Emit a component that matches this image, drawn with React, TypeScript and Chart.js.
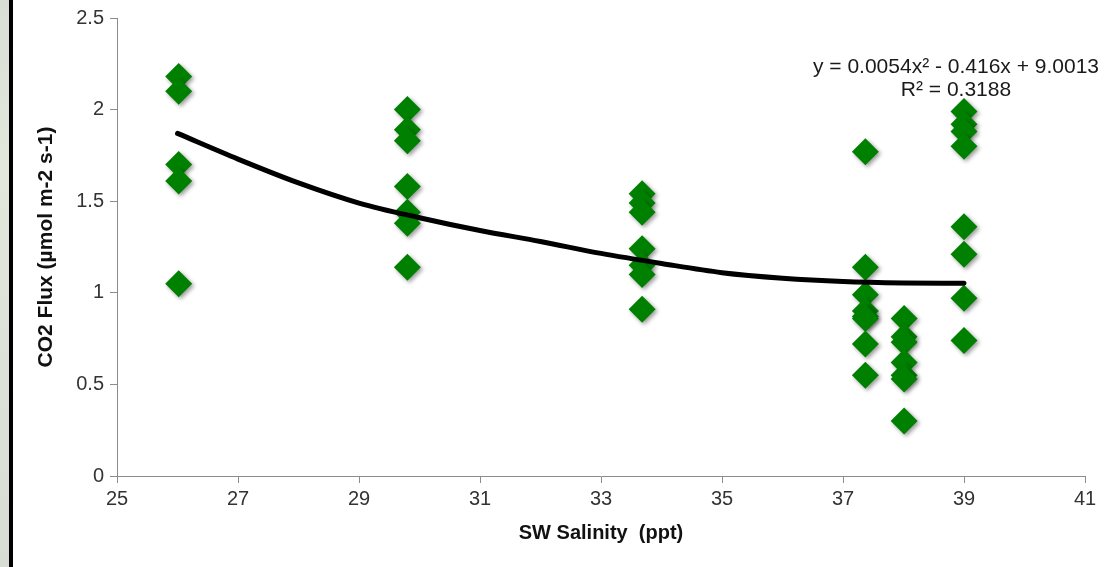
import React, { useEffect, useRef } from "react";
import { Chart, registerables } from "chart.js";

Chart.register(...registerables);

// ---- data ----
const salinityLevels = [26.02, 29.8, 33.68, 37.37, 38.01, 39.0];
const fluxAt26 = [2.18, 2.1, 1.7, 1.61, 1.05];
const fluxAt29_8 = [2.0, 1.89, 1.83, 1.58, 1.44, 1.38, 1.14];
const fluxAt33_7 = [1.54, 1.49, 1.44, 1.24, 1.15, 1.1, 0.91];
const fluxAt37_4 = [1.77, 1.14, 0.99, 0.9, 0.87, 0.86, 0.72, 0.55];
const fluxAt38 = [0.86, 0.76, 0.73, 0.62, 0.55, 0.53, 0.3];
const fluxAt39 = [1.99, 1.92, 1.88, 1.8, 1.36, 1.21, 0.97, 0.74];
const fluxColumns = [fluxAt26, fluxAt29_8, fluxAt33_7, fluxAt37_4, fluxAt38, fluxAt39];

const trendX = [26, 27, 28, 29, 30, 31, 32, 33, 34, 35, 36, 37, 38, 39];
const trendY = [1.87, 1.73, 1.6, 1.49, 1.41, 1.34, 1.28, 1.215, 1.16, 1.11, 1.08, 1.062, 1.054, 1.052];

const xTicks = [25, 27, 29, 31, 33, 35, 37, 39, 41];
const yTicks = [0, 0.5, 1, 1.5, 2, 2.5];
const yTickLabels = ["0", "0.5", "1", "1.5", "2", "2.5"];

const xTitle = "SW Salinity  (ppt)";
const yTitle = "CO2 Flux (µmol m-2 s-1)";
const eqLine1 = "y = 0.0054x² - 0.416x + 9.0013";
const eqLine2 = "R² = 0.3188";

const FONT = '"Liberation Sans", Arial, sans-serif';

const scatterPoints = salinityLevels.flatMap((s, i) =>
  fluxColumns[i].map((f) => ({ x: s, y: f }))
);
const trendPoints = trendX.map((x, i) => ({ x, y: trendY[i] }));

const shadowPlugin = {
  id: "markerShadow",
  beforeDatasetDraw(chart: any, args: any) {
    if (args.index !== 1) return;
    const ctx = chart.ctx;
    ctx.save();
    ctx.shadowColor = "rgba(0,0,0,0.4)";
    ctx.shadowBlur = 4;
    ctx.shadowOffsetX = 2;
    ctx.shadowOffsetY = 2;
  },
  afterDatasetDraw(chart: any, args: any) {
    if (args.index !== 1) return;
    chart.ctx.restore();
  },
};

const equationPlugin = {
  id: "equation",
  afterDatasetsDraw(chart: any) {
    const ctx = chart.ctx;
    ctx.save();
    ctx.font = `21px ${FONT}`;
    ctx.fillStyle = "#1a1a1a";
    ctx.textAlign = "center";
    ctx.textBaseline = "alphabetic";
    ctx.fillText(eqLine1, 956, 73);
    ctx.fillText(eqLine2, 956, 96);
    ctx.restore();
  },
};

export default function App() {
  const ref = useRef<HTMLCanvasElement | null>(null);

  useEffect(() => {
    if (!ref.current) return;
    const chart = new Chart(ref.current, {
      type: "scatter",
      data: {
        datasets: [
          {
            label: "Trend",
            data: trendPoints,
            showLine: true,
            borderColor: "#000000",
            borderWidth: 5,
            borderCapStyle: "round",
            cubicInterpolationMode: "monotone",
            pointRadius: 0,
            fill: false,
          } as any,
          {
            label: "CO2 Flux",
            data: scatterPoints,
            pointStyle: "rectRot",
            pointRadius: 13.5,
            backgroundColor: "#008000",
            borderWidth: 0,
            borderColor: "#008000",
          } as any,
        ],
      },
      options: {
        responsive: false,
        animation: false,
        events: [],
        layout: { padding: { left: 0, top: 18, right: 33, bottom: 0 } },
        plugins: {
          legend: { display: false },
          tooltip: { enabled: false },
        },
        scales: {
          x: {
            type: "linear",
            min: 25,
            max: 41,
            afterBuildTicks: (s: any) => {
              s.ticks = xTicks.map((v) => ({ value: v }));
            },
            afterFit: (s: any) => {
              s.height = 91;
            },
            grid: {
              display: true,
              drawOnChartArea: false,
              drawTicks: true,
              tickLength: 7,
              color: "#8c8c8c",
            },
            border: { display: true, color: "#8c8c8c", width: 1 },
            ticks: {
              font: { family: FONT, size: 20 },
              color: "#333333",
              padding: 4,
              maxRotation: 0,
            },
            title: {
              display: true,
              text: xTitle,
              font: { family: FONT, size: 20, weight: "bold" },
              color: "#111111",
              padding: { top: 0, bottom: 22 },
            },
          },
          y: {
            type: "linear",
            min: 0,
            max: 2.5,
            afterBuildTicks: (s: any) => {
              s.ticks = yTicks.map((v) => ({ value: v }));
            },
            afterFit: (s: any) => {
              s.width = 117;
            },
            grid: {
              display: true,
              drawOnChartArea: false,
              drawTicks: true,
              tickLength: 7,
              color: "#8c8c8c",
            },
            border: { display: true, color: "#8c8c8c", width: 1 },
            ticks: {
              font: { family: FONT, size: 20 },
              color: "#333333",
              padding: 6,
              callback: (v: any) => {
                const i = yTicks.indexOf(Number(v));
                return i >= 0 ? yTickLabels[i] : String(v);
              },
            },
            title: {
              display: true,
              text: yTitle,
              font: { family: FONT, size: 21, weight: "bold" },
              color: "#111111",
              padding: { top: 34, bottom: 0 },
            },
          },
        },
      },
      plugins: [shadowPlugin, equationPlugin],
    } as any);
    return () => chart.destroy();
  }, []);

  return (
    <div
      style={{
        position: "fixed",
        left: 0,
        top: 0,
        width: 1118,
        height: 567,
        background: "#ffffff",
        overflow: "hidden",
      }}
    >
      <div
        style={{
          position: "absolute",
          left: 0,
          top: 0,
          width: 9,
          height: 567,
          background: "linear-gradient(180deg, #d9ddd6 0%, #e3e8dc 30%, #dde1d9 60%, #d8dcd5 100%)",
        }}
      />
      <div
        style={{
          position: "absolute",
          left: 9,
          top: 0,
          width: 4,
          height: 567,
          background: "#000000",
        }}
      />
      <canvas
        ref={ref}
        width={1118}
        height={567}
        style={{ position: "absolute", left: 0, top: 0, display: "block" }}
      />
    </div>
  );
}
